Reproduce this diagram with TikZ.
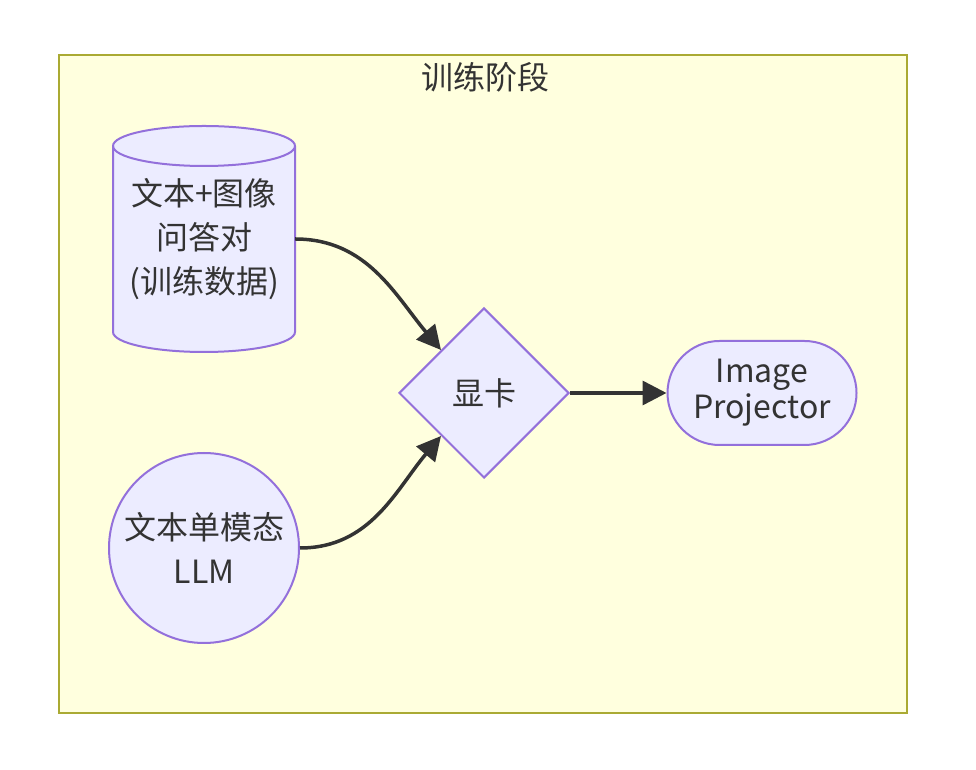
\documentclass[tikz,border=0pt]{standalone}
\usepackage{fontspec}
\setmainfont{Noto Sans CJK SC}
\usetikzlibrary{shapes.geometric,arrows.meta}

\definecolor{boxfill}{HTML}{ECECFF}
\definecolor{boxline}{HTML}{9370DB}
\definecolor{txt}{HTML}{333333}
\definecolor{areafill}{HTML}{FFFFDE}
\definecolor{arealine}{HTML}{AAAA33}
\def\px{1pt}
\def\fnt{\fontsize{32}{44}\selectfont}
\def\fntl{\fontsize{32}{36}\selectfont}

\tikzset{
  box/.style={draw=boxline, fill=boxfill, line width=2pt, text=txt,
    font=\fnt, align=center, inner sep=0pt},
  link/.style={draw=txt, line width=3.5pt, -{Triangle[length=24pt,width=24pt]}},
}

\begin{document}
\begin{tikzpicture}[x=\px,y=\px]
\useasboundingbox [fill=white] (0,0) rectangle (976,770);
% the stage
\draw [fill=areafill, draw=arealine, line width=2pt] (59,57) rectangle (907,715);
\node (title) [text=txt, font=\fnt] at (485,693) {训练阶段};
% cylinder for the data, drawn by hand
\draw [box] (113,624) -- (113,438) arc (180:360:91pt and 20pt)
      -- (295,624) arc (0:180:91pt and 20pt) -- cycle;
\draw [draw=boxline, line width=2pt] (113,624) arc (180:360:91pt and 20pt);
\node (data) [text=txt, font=\fnt, align=center, inner sep=0pt,
      minimum width=182pt, minimum height=226pt] at (204,531)
      {文本+图像\\问答对\\(训练数据)};
% the other nodes
\node (llm) [box, circle, minimum size=190pt] at (204,222) {文本单模态\\LLM};
\node (gpu) [box, diamond, minimum width=170pt, minimum height=170pt] at (484,377) {显卡};
\node (proj) [box, rounded corners=52pt, minimum width=189pt, minimum height=104pt,
      font=\fntl] at (762,377) {Image\\Projector};
% links
\draw [link] (data.east) to [out=0, in=130] (gpu.north west);
\draw [link] (llm.east) to [out=0, in=230] (gpu.south west);
\draw [link] (gpu.east) -- (proj.west);
\end{tikzpicture}
\end{document}
